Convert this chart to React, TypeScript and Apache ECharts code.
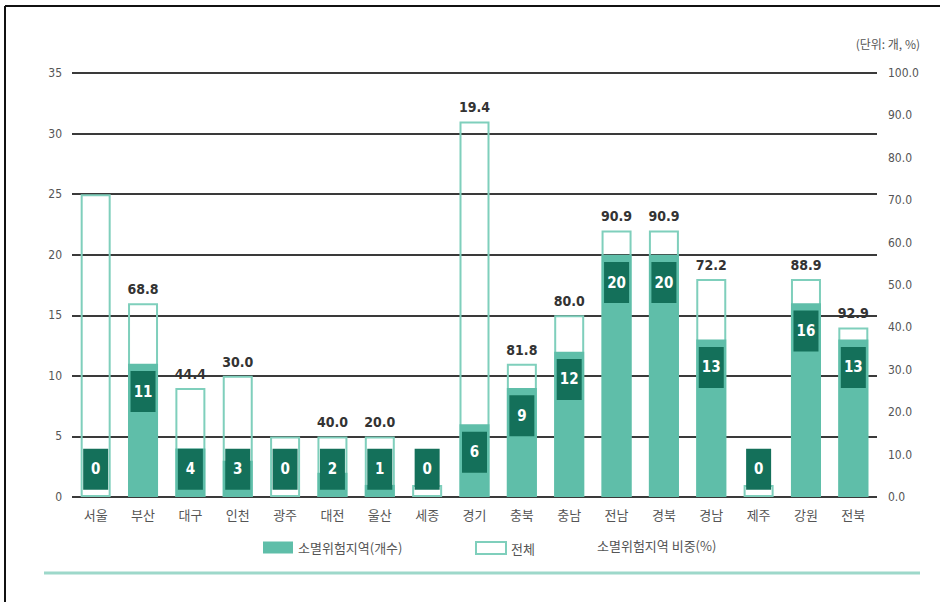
import React, { useEffect, useRef } from "react";
import * as echarts from "echarts";

const categories = ["서울", "부산", "대구", "인천", "광주", "대전", "울산", "세종", "경기", "충북", "충남", "전남", "경북", "경남", "제주", "강원", "전북"];
const totals = [25, 16, 9, 10, 5, 5, 5, 1, 31, 11, 15, 22, 22, 18, 1, 18, 14];
const counts = [0, 11, 4, 3, 0, 2, 1, 0, 6, 9, 12, 20, 20, 13, 0, 16, 13];
const shares: (number | null)[] = [null, 68.8, 44.4, 30.0, null, 40.0, 20.0, null, 19.4, 81.8, 80.0, 90.9, 90.9, 72.2, null, 88.9, 92.9];
const leftAxis = { min: 0, max: 35, interval: 5 };
const rightAxis = { min: 0, max: 100, interval: 10 };
const seriesNames = ["소멸위험지역(개수)", "전체", "소멸위험지역 비중(%)"];
const unitText = "(단위: 개, %)";

const NARROW = "'Liberation Sans Narrow', 'DejaVu Sans Condensed', 'Noto Sans', sans-serif";
const KR = "'Noto Sans CJK KR', 'Noto Sans', sans-serif";

export default function App() {
  const ref = useRef<HTMLDivElement>(null);
  useEffect(() => {
    if (!ref.current) return;
    const chart = echarts.init(ref.current, null, { renderer: "svg" });
    const legendText = { color: "#555", fontSize: 13, fontFamily: KR };
    chart.setOption({
      animation: false,
      backgroundColor: "#ffffff",
      grid: { left: 72, right: 63, top: 73, bottom: 105, containLabel: false },
      legend: [
        {
          data: [{ name: seriesNames[0], icon: "rect" }],
          left: 258,
          top: 536,
          itemWidth: 30,
          itemHeight: 12,
          textStyle: legendText,
          selectedMode: false,
        },
        {
          data: [{ name: seriesNames[1], icon: "rect" }],
          left: 470,
          top: 536,
          itemWidth: 30,
          itemHeight: 12,
          textStyle: legendText,
          selectedMode: false,
        },
      ],
      graphic: [
        { type: "line", shape: { x1: 5, y1: 6, x2: 940, y2: 6 }, style: { stroke: "#111", lineWidth: 2 } },
        { type: "line", shape: { x1: 5, y1: 6, x2: 5, y2: 602 }, style: { stroke: "#111", lineWidth: 2 } },
        { type: "line", shape: { x1: 44, y1: 573, x2: 920, y2: 573 }, style: { stroke: "#9dd8ca", lineWidth: 3 } },
        {
          type: "text",
          left: 597,
          top: 539,
          style: { text: seriesNames[2], fill: "#555", fontSize: 13, fontFamily: KR },
        },
        {
          type: "text",
          right: 20,
          top: 37,
          style: { text: unitText, fill: "#555", fontSize: 12, fontFamily: KR },
        },
      ],
      xAxis: {
        type: "category",
        data: categories,
        axisTick: { show: false },
        axisLine: { show: false },
        axisLabel: { color: "#555", fontSize: 13, fontFamily: KR, margin: 11 },
      },
      yAxis: [
        {
          type: "value",
          min: leftAxis.min,
          max: leftAxis.max,
          interval: leftAxis.interval,
          axisLine: { show: false },
          axisTick: { show: false },
          axisLabel: { color: "#555", fontSize: 12, fontFamily: NARROW, margin: 10 },
          splitLine: { show: true, lineStyle: { color: "#3a3a3a", width: 2 } },
        },
        {
          type: "value",
          min: rightAxis.min,
          max: rightAxis.max,
          interval: rightAxis.interval,
          position: "right",
          axisLine: { show: false },
          axisTick: { show: false },
          splitLine: { show: false },
          axisLabel: {
            color: "#555",
            fontSize: 12,
            fontFamily: NARROW,
            margin: 11,
            formatter: (v: number) => v.toFixed(1),
          },
        },
      ],
      series: [
        {
          name: seriesNames[1],
          type: "bar",
          data: totals,
          barWidth: 30,
          barGap: "-100%",
          z: 2,
          itemStyle: { color: "rgba(255,255,255,0)", borderColor: "#7fcfbc", borderWidth: 2 },
          label: {
            show: true,
            position: "top",
            distance: 7,
            color: "#333",
            fontSize: 14,
            fontWeight: "bold",
            fontFamily: NARROW,
            formatter: (p: any) => {
              const s = shares[p.dataIndex];
              return s == null ? "" : s.toFixed(1);
            },
          },
          silent: true,
        },
        {
          name: seriesNames[0],
          type: "bar",
          data: counts,
          barWidth: 30,
          barGap: "-100%",
          z: 3,
          itemStyle: { color: "#5fbea9" },
          silent: true,
        },
        {
          name: "labels",
          type: "scatter",
          data: counts.map((v, i) => [i, Math.max(v - 2.3, 2.3)]),
          symbol: "rect",
          symbolSize: [25, 41],
          z: 5,
          itemStyle: { color: "#14705a", opacity: 1 },
          label: {
            show: true,
            position: "inside",
            color: "#ffffff",
            fontSize: 15,
            fontWeight: "bold",
            fontFamily: NARROW,
            formatter: (p: any) => String(counts[p.dataIndex]),
          },
          silent: true,
        },
      ],
    });
    return () => chart.dispose();
  }, []);
  return (
    <div
      ref={ref}
      style={{ position: "fixed", left: 0, top: 0, width: 940, height: 602, background: "#fff" }}
    />
  );
}
